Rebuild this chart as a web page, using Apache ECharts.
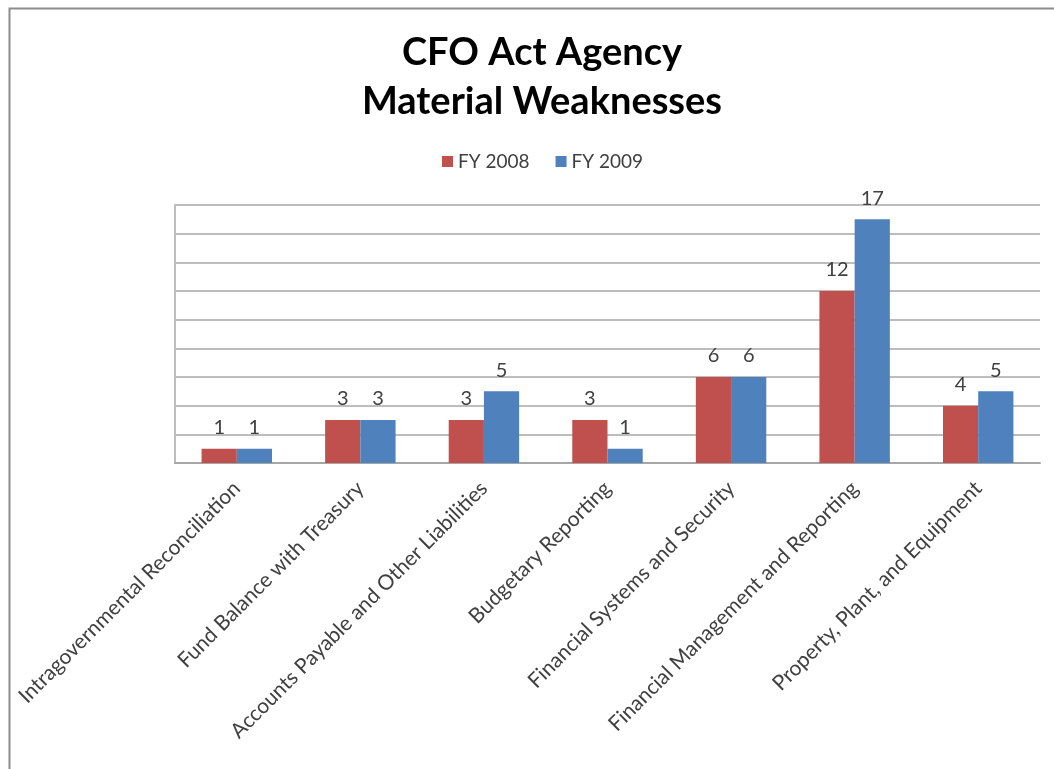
<!DOCTYPE html>
<html>
<head>
<meta charset="utf-8">
<title>CFO Act Agency Material Weaknesses</title>
<script src="https://cdn.jsdelivr.net/npm/echarts@6/dist/echarts.min.js"></script>
<style>
    html, body { margin: 0; padding: 0; background: #ffffff; }
    #chart { width: 1054px; height: 769px; }
</style>
</head>
<body>
<div id="chart"></div>
<script>
// Categories and counts
const categories = [
    'Intragovernmental Reconciliation',
    'Fund Balance with Treasury',
    'Accounts Payable and Other Liabilities',
    'Budgetary Reporting',
    'Financial Systems and Security',
    'Financial Management and Reporting',
    'Property, Plant, and Equipment',
];
const fy2008 = [1, 3, 3, 3, 6, 12, 4];
const fy2009 = [1, 3, 5, 1, 6, 17, 5];
const seriesNames = ['FY 2008', 'FY 2009'];

const FONT = 'Lato, "Open Sans", sans-serif';
const TEXT = '#404040';

const chart = echarts.init(document.getElementById('chart'));

const labelStyle = {
    show: true,
    position: 'top',
    distance: 11,
    color: TEXT,
    fontFamily: FONT,
    fontSize: 20,
};

chart.setOption({
    backgroundColor: '#ffffff',
    animation: false,
    textStyle: { fontFamily: FONT },
    // outer chart-area frame (only left/top edges are visible in the crop)
    graphic: [{
        type: 'rect',
        left: 7,
        top: 6,
        shape: { width: 1200, height: 900 },
        style: { fill: 'none', stroke: '#8c8c8c', lineWidth: 2 },
        silent: true,
    }],
    // the original chart area runs past the right edge, so its centre sits at ~537px
    title: {
        text: 'CFO Act Agency\nMaterial Weaknesses',
        left: 537,
        top: 23,
        textAlign: 'center',
        textStyle: {
            fontFamily: FONT,
            fontWeight: 'bold',
            fontSize: 38,
            lineHeight: 49,
            color: '#000000',
        },
    },
    legend: {
        data: seriesNames,
        top: 147,
        left: 437,
        itemWidth: 11,
        itemHeight: 11,
        itemGap: 26,
        icon: 'rect',
        textStyle: { fontFamily: FONT, fontSize: 19, color: TEXT },
    },
    grid: {
        left: 175,
        right: 14,
        top: 205,
        bottom: 306,
        containLabel: false,
    },
    xAxis: {
        type: 'category',
        data: categories,
        axisLine: { lineStyle: { color: '#a6a6a6', width: 2 } },
        axisTick: { show: false },
        axisLabel: {
            rotate: 45,
            interval: 0,
            margin: 22,
            color: TEXT,
            fontFamily: FONT,
            fontSize: 21,
        },
    },
    yAxis: {
        type: 'value',
        min: 0,
        max: 18,
        interval: 2,
        axisLine: { show: true, lineStyle: { color: '#bdbdbd', width: 2 } },
        axisTick: { show: false },
        axisLabel: { show: false },
        splitLine: { lineStyle: { color: '#bdbdbd', width: 2 } },
    },
    series: [
        {
            name: seriesNames[0],
            type: 'bar',
            data: fy2008,
            barGap: '0%',
            barCategoryGap: '43%',
            itemStyle: { color: '#c0504d' },
            label: labelStyle,
        },
        {
            name: seriesNames[1],
            type: 'bar',
            data: fy2009,
            barGap: '0%',
            barCategoryGap: '43%',
            itemStyle: { color: '#4f81bd' },
            label: labelStyle,
        },
    ],
});
</script>
</body>
</html>
